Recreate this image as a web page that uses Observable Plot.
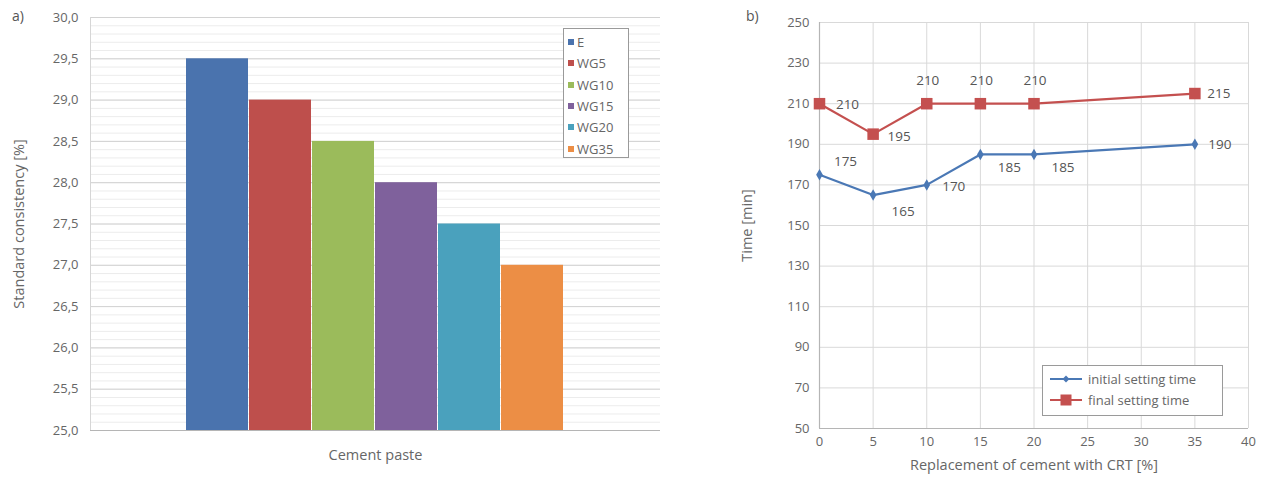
<!DOCTYPE html>
<html>
<head>
<meta charset="utf-8">
<script src="https://cdn.jsdelivr.net/npm/d3@7"></script>
<script src="https://cdn.jsdelivr.net/npm/@observablehq/plot@0.6"></script>
<style>
  html, body { margin: 0; padding: 0; background: #fff; }
  body { width: 1261px; height: 477px; position: relative; overflow: hidden; font-family: "Open Sans", "Noto Sans", sans-serif; color: #666; }
  #a { position: absolute; left: 0; top: 0; }
  #b { position: absolute; left: 700px; top: 0; }
  .panel-tag { position: absolute; font-size: 14px; color: #555; }
  .legend { position: absolute; background: #fff; border: 1.5px solid #9a9a9a; font-size: 13px; color: #666; box-sizing: border-box; }
  .legend .row { position: absolute; display: flex; align-items: center; white-space: nowrap; }
  .sw { display: inline-block; width: 6px; height: 6px; margin-right: 3px; }
  svg g[aria-label="y-axis label"] text,
  svg g[aria-label="x-axis label"] text,
  svg g[aria-label="fx-axis tick label"] text { font-size: 14.5px; fill: #666; }
  svg g[aria-label="y-axis tick label"] text,
  svg g[aria-label="x-axis tick label"] text { font-size: 13px; fill: #666; }
</style>
</head>
<body>
<div id="a"></div>
<div id="b"></div>
<div class="panel-tag" style="left:12px; top:6px;">a)</div>
<div class="panel-tag" style="left:746px; top:6px;">b)</div>
<div id="legendA" class="legend" style="left:563px; top:28px; width:66px; height:130px;"></div>
<div id="legendB" class="legend" style="left:1042px; top:365px; width:181px; height:51px;"></div>
<script>
// ---- Data ----
const categories = ["Cement paste"];
const series = ["E", "WG5", "WG10", "WG15", "WG20", "WG35"];
const consistency = [29.5, 29.0, 28.5, 28.0, 27.5, 27.0];
const barColors = ["#4a73ae", "#be4f4c", "#9bbb5b", "#7f619c", "#4aa1bd", "#ec8e45"];
const yTicksA = [25.0, 25.5, 26.0, 26.5, 27.0, 27.5, 28.0, 28.5, 29.0, 29.5, 30.0];

const replacement = [0, 5, 10, 15, 20, 35];
const initialTime = [175, 165, 170, 185, 185, 190];
const finalTime = [210, 195, 210, 210, 210, 215];
const seriesB = ["initial setting time", "final setting time"];
const lineColors = ["#4a78b5", "#c4504f"];
const xTicksB = [0, 5, 10, 15, 20, 25, 30, 35, 40];
const yTicksB = [50, 70, 90, 110, 130, 150, 170, 190, 210, 230, 250];

const fmtComma = d => d.toFixed(1).replace(".", ",");
const font = '"Open Sans", "Noto Sans", sans-serif';

// ---- Panel a ----
const barData = series.map((s, i) => ({cat: categories[0], s, v: consistency[i]}));
const minorA = d3.range(250, 301, 1).map(d => d / 10);

const chartA = Plot.plot({
  width: 700, height: 477,
  marginLeft: 90, marginRight: 40, marginTop: 17, marginBottom: 47,
  style: {fontFamily: font, fontSize: "13px", color: "#666", background: "transparent"},
  fx: {domain: categories, padding: 0, label: null, axis: "bottom", tickSize: 0, tickPadding: 19},
  x: {domain: series, paddingOuter: 1.49, paddingInner: 0.015, axis: null},
  y: {domain: [25, 30], ticks: yTicksA, tickFormat: fmtComma, tickSize: 0, tickPadding: 12,
      label: "Standard consistency [%]", labelAnchor: "center", labelArrow: "none", labelOffset: 77},
  color: {domain: series, range: barColors},
  marks: [
    Plot.ruleY(minorA, {stroke: "#ececec", strokeWidth: 1}),
    Plot.ruleY(yTicksA, {stroke: "#d2d2d2", strokeWidth: 1}),
    Plot.frame({anchor: "left", stroke: "#d6d6d6"}),
    Plot.barY(barData, {fx: "cat", x: "s", y1: () => 25, y2: "v", fill: "s"}),
    Plot.ruleY([25], {stroke: "#b5b5b5", strokeWidth: 1.2})
  ]
});
document.getElementById("a").appendChild(chartA);

// ---- Panel b ----
const lineData = [];
replacement.forEach((x, i) => {
  lineData.push({x, y: initialTime[i], s: seriesB[0], i});
});
replacement.forEach((x, i) => {
  lineData.push({x, y: finalTime[i], s: seriesB[1], i});
});
const ini = lineData.filter(d => d.s === seriesB[0]);
const fin = lineData.filter(d => d.s === seriesB[1]);

function lab(data, idx, dx, dy) {
  return Plot.text(data.filter(d => idx.includes(d.i)), {
    x: "x", y: "y", text: d => String(d.y), dx, dy,
    fill: "#555", fontSize: 13.5, textAnchor: "middle"
  });
}

const chartB = Plot.plot({
  width: 561, height: 477,
  marginLeft: 119, marginRight: 13, marginTop: 22, marginBottom: 49,
  style: {fontFamily: font, fontSize: "13px", color: "#666", background: "transparent"},
  x: {domain: [0, 40], ticks: xTicksB, tickSize: 0, tickPadding: 8,
      label: "Replacement of cement with CRT [%]", labelAnchor: "center", labelArrow: "none", labelOffset: 41},
  y: {domain: [50, 250], ticks: yTicksB, tickSize: 0, tickPadding: 10,
      label: "Time [min]", labelAnchor: "center", labelArrow: "none", labelOffset: 78},
  color: {domain: seriesB, range: lineColors},
  marks: [
    Plot.ruleY(yTicksB, {stroke: "#d9d9d9"}),
    Plot.ruleX(xTicksB, {stroke: "#d9d9d9"}),
    Plot.ruleY([50], {stroke: "#b5b5b5", strokeWidth: 1.2}),
    Plot.ruleX([0], {stroke: "#b5b5b5", strokeWidth: 1.2}),
    Plot.line(ini, {x: "x", y: "y", stroke: lineColors[0], strokeWidth: 2.2}),
    Plot.line(fin, {x: "x", y: "y", stroke: lineColors[1], strokeWidth: 2.2}),
    Plot.dot(ini, {x: "x", y: "y", symbol: "diamond", r: 3.5, fill: lineColors[0]}),
    Plot.dot(fin, {x: "x", y: "y", symbol: "square", r: 6.5, fill: lineColors[1]}),
    // labels: final setting time
    lab(fin, [0], 28, 1),
    lab(fin, [1], 26, 3),
    lab(fin, [2, 3, 4], 1, -23),
    lab(fin, [5], 24, 0),
    // labels: initial setting time
    lab(ini, [0], 26, -13),
    lab(ini, [1], 30, 17),
    lab(ini, [2], 27, 2),
    lab(ini, [3, 4], 29, 13),
    lab(ini, [5], 25, 0)
  ]
});
document.getElementById("b").appendChild(chartB);

// ---- Legends ----
const legA = document.getElementById("legendA");
series.forEach((s, i) => {
  const row = document.createElement("div");
  row.className = "row";
  row.style.left = "4px";
  row.style.top = (4 + i * 21.3) + "px";
  row.innerHTML = `<span class="sw" style="background:${barColors[i]}"></span><span>${s}</span>`;
  legA.appendChild(row);
});

const legB = document.getElementById("legendB");
seriesB.forEach((s, i) => {
  const row = document.createElement("div");
  row.className = "row";
  row.style.left = "7px";
  row.style.top = (4 + i * 21) + "px";
  const marker = i === 0
    ? `<svg width="32" height="12"><line x1="0" y1="6" x2="32" y2="6" stroke="${lineColors[0]}" stroke-width="2"/><path d="M16 2.5 L19.5 6 L16 9.5 L12.5 6 Z" fill="${lineColors[0]}"/></svg>`
    : `<svg width="32" height="12"><line x1="0" y1="6" x2="32" y2="6" stroke="${lineColors[1]}" stroke-width="2"/><rect x="10.5" y="0.5" width="11" height="11" fill="${lineColors[1]}"/></svg>`;
  row.innerHTML = marker + `<span style="margin-left:6px">${s}</span>`;
  legB.appendChild(row);
});
</script>
</body>
</html>
